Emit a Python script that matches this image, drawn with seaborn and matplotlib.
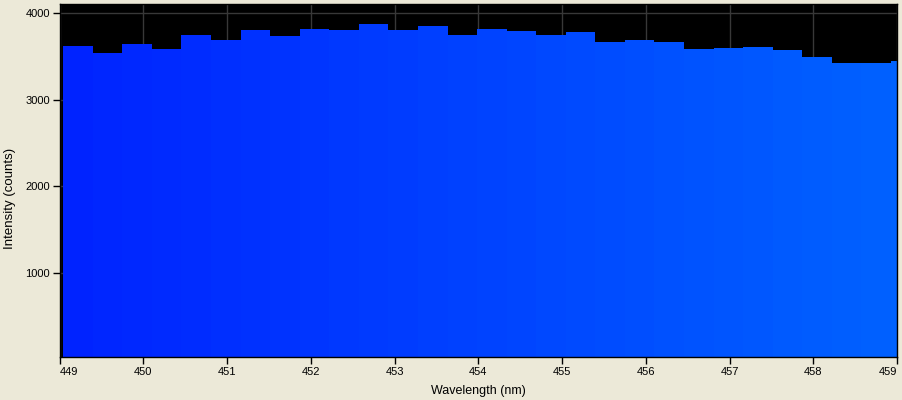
import numpy as np
import pandas as pd
import seaborn as sns
import matplotlib.pyplot as plt
from matplotlib.colors import LinearSegmentedColormap

# Spectrum bins (nm) and intensities
bin_start = 449.044
bin_width = 0.353
intensity = [3623, 3546, 3646, 3588, 3750, 3692, 3807, 3738, 3819, 3807,
             3877, 3807, 3854, 3750, 3819, 3796, 3750, 3784, 3669, 3692,
             3669, 3588, 3600, 3611, 3577, 3496, 3427, 3427, 3450]
x_ticks = [449, 450, 451, 452, 453, 454, 455, 456, 457, 458, 459]
y_ticks = [1000, 2000, 3000, 4000]

edges = [bin_start + bin_width * i for i in range(len(intensity) + 1)]
centers = [(edges[i] + edges[i + 1]) / 2 for i in range(len(intensity))]
df = pd.DataFrame({"Wavelength": centers, "Intensity": intensity})

sns.set_style("ticks")
plt.rcParams['font.family'] = ['Liberation Sans', 'DejaVu Sans']

fig = plt.figure(figsize=(9.03, 4.0), dpi=100, facecolor="#ECE9D8")
ax = fig.add_axes([59.5 / 903, 1 - 357 / 400, (897 - 59.5) / 903, (357 - 4) / 400])
ax.set_facecolor("black")

sns.histplot(data=df, x="Wavelength", weights="Intensity", bins=edges,
             element="bars", fill=True, linewidth=0, alpha=1, ax=ax, zorder=2)

cmap = LinearSegmentedColormap.from_list("spec", ["#0022FF", "#0062FF"])
for p in ax.patches:
    xc = p.get_x() + p.get_width() / 2
    p.set_facecolor(cmap((xc - 449) / 10))
    p.set_edgecolor("none")

ax.set_xlim(449, 459)
ax.set_ylim(31, 4107)
ax.set_xticks(x_ticks)
ax.set_yticks(y_ticks)
ax.grid(True, color="#383838", linewidth=1, zorder=0)
ax.set_axisbelow(True)

for s in ax.spines.values():
    s.set_color("black")
    s.set_linewidth(1)
ax.tick_params(direction="out", length=5, width=1, color="black",
               labelcolor="black", labelsize=8, pad=2)

# first and last x labels stay inside the axis range
xl = ax.get_xticklabels()
xl[0].set_horizontalalignment("left")
xl[-1].set_horizontalalignment("right")

ax.set_xlabel("Wavelength (nm)", fontsize=9, labelpad=6, color="black")
ax.set_ylabel("Intensity (counts)", fontsize=9.5, color="black")
ax.yaxis.set_label_coords(-0.052, 0.448)

fig.savefig("out.png", dpi=100, facecolor=fig.get_facecolor())
